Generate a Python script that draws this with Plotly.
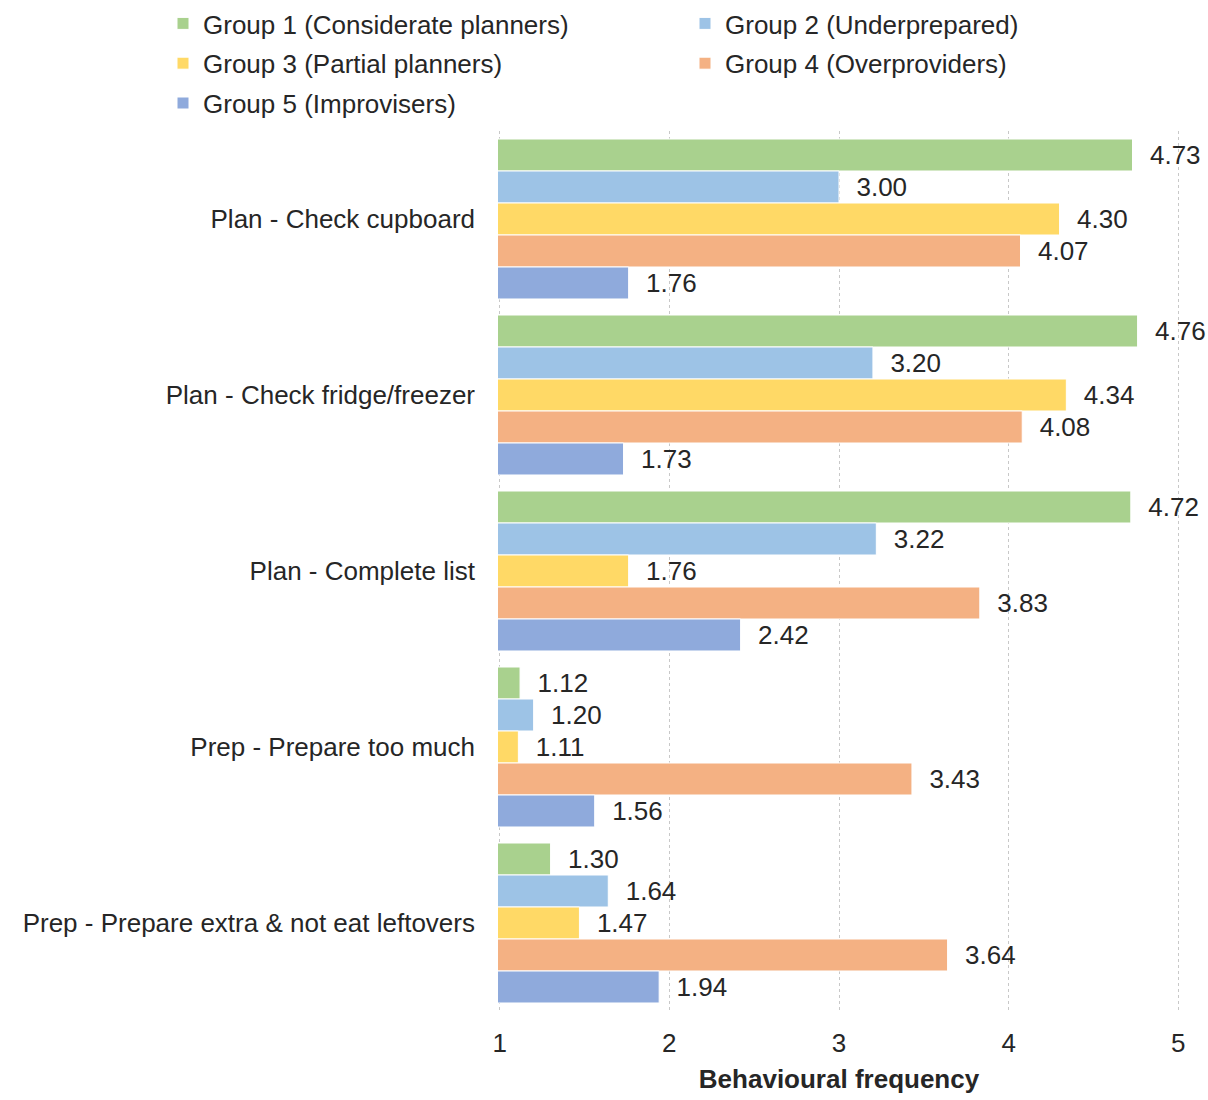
import plotly.graph_objects as go

# Behaviour items (top to bottom)
categories = [
    "Plan - Check cupboard",
    "Plan - Check fridge/freezer",
    "Plan - Complete list",
    "Prep - Prepare too much",
    "Prep - Prepare extra & not eat leftovers",
]

group_names = [
    "Group 1 (Considerate planners)",
    "Group 2 (Underprepared)",
    "Group 3 (Partial planners)",
    "Group 4 (Overproviders)",
    "Group 5 (Improvisers)",
]

group1 = [4.73, 4.76, 4.72, 1.12, 1.30]
group2 = [3.00, 3.20, 3.22, 1.20, 1.64]
group3 = [4.30, 4.34, 1.76, 1.11, 1.47]
group4 = [4.07, 4.08, 3.83, 3.43, 3.64]
group5 = [1.76, 1.73, 2.42, 1.56, 1.94]

x_ticks = [1, 2, 3, 4, 5]

series = [group1, group2, group3, group4, group5]
colors = ["#A9D18E", "#9DC3E6", "#FFD966", "#F4B183", "#8FAADC"]
# odd groups go in the left legend column, even groups in the right one
legend_ids = ["legend", "legend2", "legend", "legend2", "legend"]

FONT = "Liberation Sans, Arial, sans-serif"
FS = 26
TEXT_COLOR = "#262626"

fig = go.Figure()
for name, vals, col, lg in zip(group_names, series, colors, legend_ids):
    fig.add_trace(go.Bar(
        y=categories,
        x=vals,
        name=name,
        legend=lg,
        legendgroup=name,
        orientation="h",
        marker=dict(color=col, line=dict(color="white", width=1)),
        text=[f"\u00a0\u00a0{v:.2f}" for v in vals],
        textposition="outside",
        textfont=dict(family=FONT, size=FS, color=TEXT_COLOR),
        constraintext="none",
        cliponaxis=False,
    ))

legend_common = dict(
    orientation="v",
    xref="container",
    yref="container",
    y=1 + 6 / 1100,
    xanchor="left",
    yanchor="top",
    itemwidth=30,
    tracegroupgap=3,
    bgcolor="rgba(0,0,0,0)",
    font=dict(family=FONT, size=FS, color=TEXT_COLOR),
    traceorder="grouped",
)

fig.update_layout(
    width=1208,
    height=1100,
    barmode="group",
    bargap=0.091,
    bargroupgap=0,
    plot_bgcolor="white",
    paper_bgcolor="white",
    font=dict(family=FONT, size=FS, color=TEXT_COLOR),
    margin=dict(l=498, r=28, t=131, b=89, autoexpand=False),
    legend=dict(legend_common, x=163 / 1208),
    legend2=dict(legend_common, x=685 / 1208),
    xaxis=dict(
        range=[0.99, 5.01],
        tickvals=x_ticks,
        ticktext=[str(t) for t in x_ticks],
        showgrid=True,
        gridcolor="#C8C8C8",
        griddash="dot",
        gridwidth=1,
        zeroline=False,
        showline=False,
        ticks="",
        ticklabelstandoff=14,
        tickfont=dict(family=FONT, size=FS, color=TEXT_COLOR),
        title=dict(
            text="<b>Behavioural frequency</b>",
            font=dict(family=FONT, size=FS, color=TEXT_COLOR),
            standoff=12,
        ),
    ),
    yaxis=dict(
        autorange="reversed",
        showgrid=False,
        zeroline=False,
        showline=False,
        ticks="",
        ticklabelstandoff=22,
        tickfont=dict(family=FONT, size=FS, color=TEXT_COLOR),
    ),
)

fig.write_html("out.html")
